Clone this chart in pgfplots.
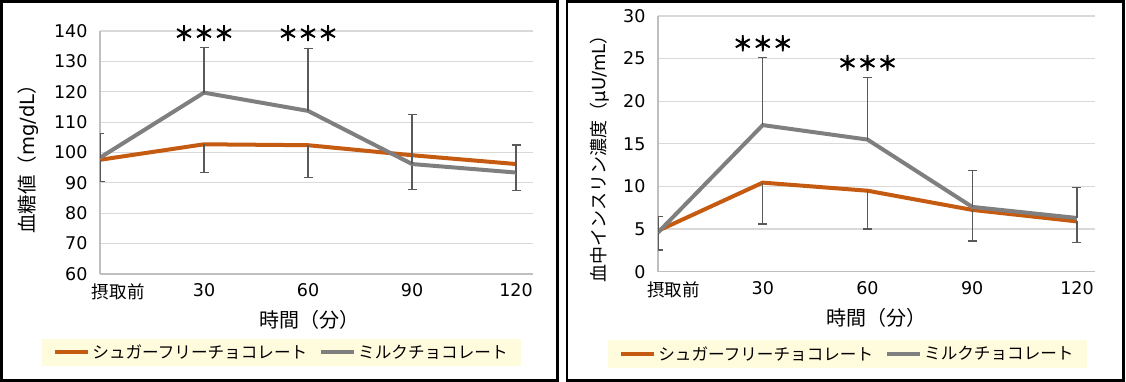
\documentclass[border=0pt]{standalone}
\usepackage{pgfplots}
\pgfplotsset{compat=1.18}
\usepackage{fontspec}
\setmainfont{DejaVu Sans}
\newfontfamily\cjk{Noto Sans CJK JP}
\newfontfamily\astfont{Noto Sans CJK JP}[FakeBold=4]
\definecolor{myorange}{HTML}{C55A11}
\definecolor{mygray}{HTML}{7F7F7F}
\definecolor{errc}{HTML}{595959}
\definecolor{gridc}{HTML}{D9D9D9}
\definecolor{axc}{HTML}{BFBFBF}
\definecolor{legbg}{HTML}{FFFCDD}
\tikzset{ast/.style={font=\astfont\fontsize{20}{22}\selectfont}}
\pgfplotsset{
  mybase/.style={
    scale only axis, enlargelimits=false, clip mode=individual,
    axis lines*=left, axis line style={draw=axc, line width=1.2pt},
    major tick length=0pt, ymajorgrids, grid style={draw=gridc, line width=1.2pt},
    xmin=0, xtick={0,1,2,3,4},
    /pgf/number format/assume math mode=true,
    ticklabel style={font=\fontsize{17.5}{20}\selectfont, text=black},
    yticklabel style={xshift=-9pt},
    xticklabel style={yshift=-6pt},
    legend columns=2,
    legend cell align=left,
    legend image code/.code={\draw[#1, line width=4pt] (0pt,0pt) -- (33pt,0pt);},
    legend style={fill=legbg, draw=none, font=\cjk\fontsize{16.6}{19}\selectfont,
      inner xsep=11pt, inner ysep=4pt, anchor=center,
      /tikz/every even column/.append style={column sep=10pt}},
  },
  errst/.style={error bars/y explicit, error bars/error bar style={errc, line width=1.2pt},
      error bars/error mark options={rotate=90, mark size=4.5pt, line width=1.2pt, errc}},
}
\begin{document}
\begin{tikzpicture}[x=1pt,y=1pt]
\useasboundingbox (0,0) rectangle (1126,382);
\draw[line width=2.5pt] (1.5,1.5) rectangle (557.5,380.5);
\draw[line width=2.5pt] (567,1.5) rectangle (1123.5,380.5);

% ---------- left panel ----------
\begin{axis}[mybase,
  at={(100pt,108pt)}, anchor=south west,
  width=433pt, height=243pt,
  xmax=4.163, ymin=60, ymax=140, ytick={60,70,...,140},
  xticklabels={\makebox[0pt][l]{\hspace{-8pt}\cjk 摂取前},30,60,90,120},
  xlabel={{\cjk 時間（分）}}, xlabel style={at={(axis description cs:0.483,-0.189)}, anchor=center, font=\fontsize{20}{22}\selectfont},
  ylabel={{\cjk 血糖値（}mg/dL{\cjk ）}}, ylabel style={at={(axis description cs:-0.166,0.492)}, anchor=center, rotate=0, font=\fontsize{19.5}{22}\selectfont},
  legend style={at={(axis description cs:0.4192,-0.323)}},
]
\addplot[myorange, line width=4pt, errst, error bars/y dir=minus]
  table[x=x, y=y, y error=e] {
x y e
0 97.6 7.2
1 102.7 9.3
2 102.4 10.7
3 99.1 11.2
4 96.2 8.7
};
\addlegendentry{シュガーフリーチョコレート}
\addplot[mygray, line width=4pt, errst, error bars/y dir=plus]
  table[x=x, y=y, y error=e] {
x y e
0 98.3 8.0
1 119.7 14.9
2 113.7 20.5
3 96.2 16.3
4 93.4 9.1
};
\addlegendentry{ミルクチョコレート}
\node[ast] at (axis cs:1,139.3) {＊＊＊};
\node[ast] at (axis cs:2,139.3) {＊＊＊};
\end{axis}

% ---------- right panel ----------
\begin{axis}[mybase,
  at={(658pt,110.3pt)}, anchor=south west,
  width=437pt, height=255.7pt,
  xmax=4.172, ymin=0, ymax=30, ytick={0,5,...,30},
  xticklabels={\makebox[0pt][l]{\hspace{-11pt}\cjk 摂取前},30,60,90,120},
  xlabel={{\cjk 時間（分）}}, xlabel style={at={(axis description cs:0.499,-0.181)}, anchor=center, font=\fontsize{20}{22}\selectfont},
  ylabel={{\cjk 血中インスリン濃度（}μU/mL{\cjk ）}}, ylabel style={at={(axis description cs:-0.133,0.46)}, anchor=center, rotate=0, font=\fontsize{18}{21}\selectfont},
  legend style={at={(axis description cs:0.4336,-0.3219)}},
]
\addplot[myorange, line width=4pt, errst, error bars/y dir=minus]
  table[x=x, y=y, y error=e] {
x y e
0 4.8 2.25
1 10.45 4.85
2 9.5 4.5
3 7.25 3.65
4 5.9 2.5
};
\addlegendentry{シュガーフリーチョコレート}
\addplot[mygray, line width=4pt, errst, error bars/y dir=plus]
  table[x=x, y=y, y error=e] {
x y e
0 4.6 1.9
1 17.2 7.9
2 15.5 7.3
3 7.6 4.3
4 6.3 3.6
};
\addlegendentry{ミルクチョコレート}
\node[ast] at (axis cs:1,26.8) {＊＊＊};
\node[ast] at (axis cs:2,24.5) {＊＊＊};
\end{axis}
\end{tikzpicture}
\end{document}
